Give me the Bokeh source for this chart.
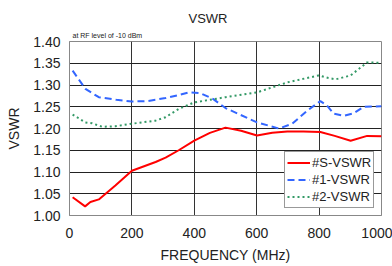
from bokeh.plotting import figure
from bokeh.models import Legend, LegendItem, FixedTicker, Range1d, Title, PrintfTickFormatter
from bokeh.embed import file_html
from bokeh.resources import INLINE

# Data (frequency in MHz, VSWR)
freq_s = [10, 50, 67, 94, 147, 200, 276, 308, 350, 400, 450, 500, 550, 601, 650, 698, 750, 804, 850, 901, 954, 1000]
vswr_s = [1.042, 1.021, 1.031, 1.037, 1.069, 1.103, 1.123, 1.133, 1.150, 1.172, 1.190, 1.202, 1.195, 1.184, 1.190, 1.193, 1.193, 1.192, 1.183, 1.172, 1.183, 1.182]

freq_1 = [10, 51, 94, 150, 200, 250, 308, 350, 382, 420, 460, 500, 601, 671, 714, 762, 804, 825, 847, 879, 911, 943, 1000]
vswr_1 = [1.333, 1.291, 1.272, 1.266, 1.262, 1.263, 1.270, 1.277, 1.283, 1.281, 1.268, 1.247, 1.214, 1.200, 1.211, 1.241, 1.263, 1.253, 1.234, 1.229, 1.235, 1.250, 1.251]

freq_2 = [10, 51, 72, 105, 147, 200, 276, 308, 350, 400, 500, 601, 698, 799, 830, 853, 901, 954, 1000]
vswr_2 = [1.232, 1.214, 1.212, 1.204, 1.205, 1.211, 1.218, 1.226, 1.245, 1.260, 1.272, 1.283, 1.306, 1.322, 1.316, 1.313, 1.322, 1.352, 1.351]

series_names = ["#S-VSWR", "#1-VSWR", "#2-VSWR"]
x_ticks = [0, 200, 400, 600, 800, 1000]
y_ticks = [1.00, 1.05, 1.10, 1.15, 1.20, 1.25, 1.30, 1.35, 1.40]

FONT = "Liberation Sans"

p = figure(frame_width=312, frame_height=174, output_backend="svg", toolbar_location=None,
           x_range=Range1d(0, 1000), y_range=Range1d(1.0, 1.4),
           min_border_left=69, min_border_right=11, min_border_top=41, min_border_bottom=51)
p.background_fill_color = "white"
p.border_fill_color = "white"
p.outline_line_color = "#888888"
p.outline_line_width = 1

# Titles: main title outermost, subtitle next to the frame
p.title.text = "VSWR"
p.title.align = "left"
p.title.offset = 119
p.title.text_font = FONT
p.title.text_font_size = "13px"
p.title.text_font_style = "normal"
p.title.text_color = "#222222"
p.title.standoff = 3
sub_title = Title(text="at RF level of -10 dBm", align="left", offset=3, text_font=FONT,
                  text_font_size="7px", text_font_style="normal", text_color="#222222", standoff=5)
p.add_layout(sub_title, "above")

for ax in (p.xaxis[0], p.yaxis[0]):
    ax.major_tick_line_color = None
    ax.minor_tick_line_color = None
    ax.major_tick_out = 0
    ax.major_tick_in = 0
    ax.minor_tick_out = 0
    ax.minor_tick_in = 0
    ax.axis_line_color = "#888888"
    ax.major_label_text_font = FONT
    ax.major_label_text_font_size = "14px"
    ax.major_label_text_color = "#222222"
    ax.axis_label_text_font = FONT
    ax.axis_label_text_font_size = "14px"
    ax.axis_label_text_font_style = "normal"
    ax.axis_label_text_color = "#222222"

p.xaxis.ticker = FixedTicker(ticks=x_ticks)
p.yaxis.ticker = FixedTicker(ticks=y_ticks)
p.yaxis.formatter = PrintfTickFormatter(format="%.2f")
p.xaxis.major_label_standoff = 12
p.yaxis.major_label_standoff = 9
p.xaxis.axis_label = "FREQUENCY (MHz)"
p.yaxis.axis_label = "VSWR"
p.xaxis.axis_label_standoff = 6
p.yaxis.axis_label_standoff = 8

p.xgrid.grid_line_color = "#333333"
p.ygrid.grid_line_color = "#222222"
p.xgrid.grid_line_width = 1
p.ygrid.grid_line_width = 1

r_s = p.line(freq_s, vswr_s, line_color="#ff0000", line_width=2)
r_1 = p.line(freq_1, vswr_1, line_color="#3366ff", line_width=2, line_dash="7 4")
r_2 = p.line(freq_2, vswr_2, line_color="#339966", line_width=2, line_dash="2 3")

legend = Legend(items=[LegendItem(label=series_names[0], renderers=[r_s]),
                       LegendItem(label=series_names[1], renderers=[r_1]),
                       LegendItem(label=series_names[2], renderers=[r_2])],
                location=(215, 7))
legend.label_text_font = FONT
legend.label_text_font_size = "13px"
legend.label_text_color = "#222222"
legend.glyph_width = 23
legend.glyph_height = 17
legend.label_height = 17
legend.label_standoff = 2
legend.spacing = 0
legend.padding = 2
legend.margin = 0
legend.border_line_color = "#333333"
legend.border_line_width = 1
legend.background_fill_alpha = 1.0
p.add_layout(legend, "center")

open("out.html", "w").write(file_html(p, INLINE))
